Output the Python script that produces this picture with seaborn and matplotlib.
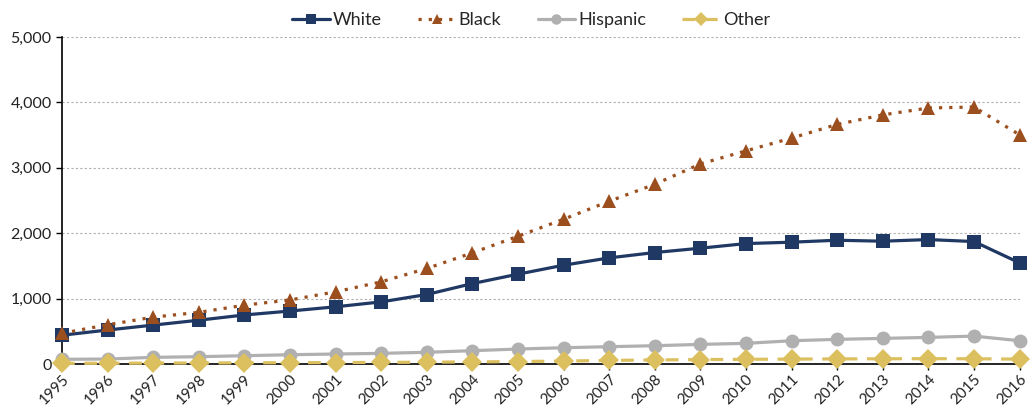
import pandas as pd
import matplotlib
matplotlib.use("Agg")
import matplotlib.pyplot as plt
import seaborn as sns

# values
years = list(range(1995, 2017))
white = [440, 520, 595, 670, 750, 810, 875, 950, 1063, 1230, 1374, 1511,
         1623, 1705, 1771, 1842, 1863, 1893, 1878, 1903, 1873, 1547]
black = [470, 600, 717, 790, 900, 980, 1104, 1257, 1461, 1700, 1954, 2214,
         2489, 2748, 3060, 3260, 3455, 3664, 3810, 3915, 3930, 3505]
hispanic = [72, 76, 102, 112, 127, 142, 153, 163, 179, 204, 229, 249,
            265, 280, 300, 316, 356, 377, 392, 407, 427, 356]
other = [10, 12, 14, 16, 18, 20, 22, 25, 28, 32, 38, 45,
         55, 62, 68, 72, 75, 78, 80, 82, 80, 75]

groups = ["White", "Black", "Hispanic", "Other"]
colors = {"White": "#1f3864", "Black": "#9c4f1e", "Hispanic": "#b0b0b0", "Other": "#dcc060"}
markers = {"White": "s", "Black": "^", "Hispanic": "o", "Other": "D"}
dashes = {"White": "", "Black": (1, 2.2), "Hispanic": "", "Other": (4, 3)}


def build_frame():
    rows = []
    for name, vals in zip(groups, [white, black, hispanic, other]):
        for y, v in zip(years, vals):
            rows.append({"year": y, "count": v, "group": name})
    return pd.DataFrame(rows)


def main():
    sns.set_style("white")
    plt.rcParams["font.family"] = ["Lato", "DejaVu Sans"]
    data = build_frame()

    fig = plt.figure(figsize=(10.33, 4.13), dpi=100)
    ax = fig.add_axes([0.060, 0.1186, 0.927, 0.7917])

    sns.lineplot(data=data, x="year", y="count", hue="group", style="group",
                 palette=colors, markers=markers, dashes=dashes,
                 hue_order=groups, style_order=groups,
                 linewidth=2.3, markersize=10, markeredgewidth=0,
                 ax=ax, clip_on=False, zorder=3)

    ax.set_xlim(1995, 2016)
    ax.set_ylim(0, 5000)
    ax.set_yticks([0, 1000, 2000, 3000, 4000, 5000])
    ax.set_yticklabels(["0", "1,000", "2,000", "3,000", "4,000", "5,000"], fontsize=11.5, color="#222222")
    ax.set_xticks(years)
    ax.set_xticklabels([str(y) for y in years], rotation=45, ha="right",
                       rotation_mode="anchor", fontsize=11, color="#222222")
    ax.set_xlabel("")
    ax.set_ylabel("")

    ax.grid(axis="y", color="#b0b0b0", linestyle=(0, (2, 2)), linewidth=0.8)
    ax.set_axisbelow(True)
    for s in ["top", "right"]:
        ax.spines[s].set_visible(False)
    ax.spines["left"].set_color("black")
    ax.spines["bottom"].set_color("black")
    ax.spines["left"].set_linewidth(1.2)
    ax.spines["bottom"].set_linewidth(1.2)
    ax.tick_params(axis="both", which="major", length=4, width=1, color="black",
                   left=True, bottom=True)
    ax.tick_params(axis="x", pad=2)

    handles, labels = ax.get_legend_handles_labels()
    ax.legend(handles, labels, loc="lower center", bbox_to_anchor=(0.49, 0.995),
              ncol=4, frameon=False, fontsize=13, handlelength=2.1,
              markerscale=0.75, columnspacing=2.0, handletextpad=0.15,
              borderaxespad=0.2)

    fig.savefig("out.png", dpi=100)


if __name__ == "__main__":
    main()
